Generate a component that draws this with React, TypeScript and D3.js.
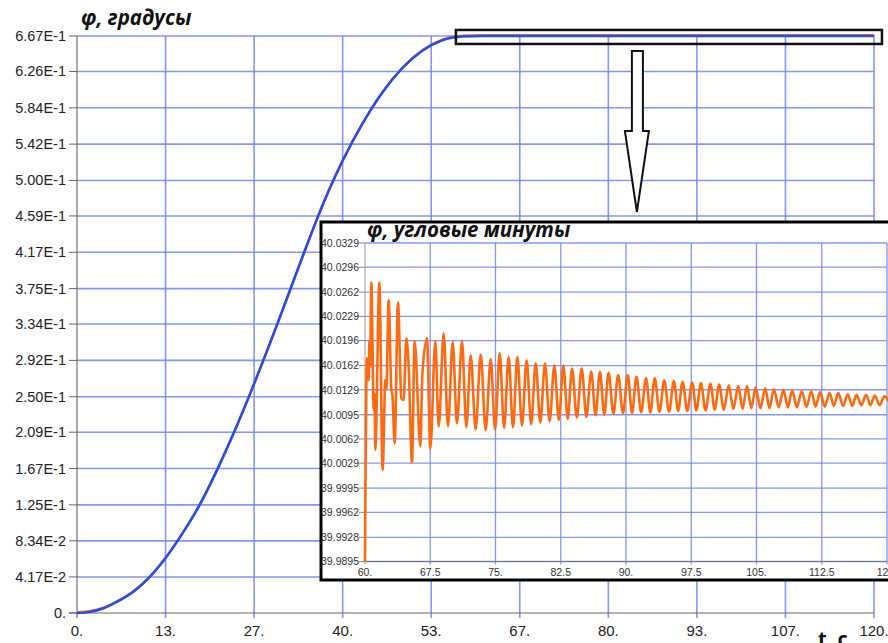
import React from "react";
import * as d3 from "d3";

// main curve: phi (degrees) vs t (s)
const mainT = [0, 2, 4, 6, 8.5, 11, 13.3, 16, 18.5, 21, 23.5, 26.5, 28.5, 30, 32, 34, 36, 38, 40, 43, 46, 49, 52, 55, 58, 61, 70, 80, 90, 100, 110, 120];
const mainV = [0, 0.0013, 0.0055, 0.0128, 0.0246, 0.042, 0.0632, 0.0935, 0.1255, 0.164, 0.2065, 0.262, 0.301, 0.331, 0.372, 0.413, 0.453, 0.49, 0.523, 0.566, 0.602, 0.63, 0.65, 0.662, 0.6663, 0.667, 0.667, 0.667, 0.667, 0.667, 0.667, 0.667];

const mainXTicks = [0, 13.333, 26.667, 40, 53.333, 66.667, 80, 93.333, 106.667, 120];
const mainXLabels = ["0.", "13.", "27.", "40.", "53.", "67.", "80.", "93.", "107.", "120."];
const mainYLabels = ["0.", "4.17E-2", "8.34E-2", "1.25E-1", "1.67E-1", "2.09E-1", "2.50E-1", "2.92E-1", "3.34E-1", "3.75E-1", "4.17E-1", "4.59E-1", "5.00E-1", "5.42E-1", "5.84E-1", "6.26E-1", "6.67E-1"];

// inset: phi (arc minutes) for t = 60..120, extrema
const insetT = [
  60.0, 60.23, 60.42, 60.5, 60.58, 60.73, 61.0, 61.08, 61.19, 61.65, 62.03, 62.34, 62.45, 62.72, 63.03, 63.15, 63.41, 63.79,
  64.18, 64.44, 64.75, 65.02, 65.4, 65.71, 66.36, 66.6, 67.13, 67.51, 68.08, 68.47, 69.04, 69.54, 70.08, 70.57, 71.15, 71.65,
  72.15, 72.72, 73.3, 73.87, 74.45, 74.96, 75.48, 75.99, 76.51, 77.01, 77.51, 78.04, 78.58, 79.1, 79.62, 80.15, 80.69, 81.22,
  81.76, 82.28, 82.8, 83.3, 83.8, 84.35, 84.9, 85.45, 86.0, 86.5, 87.0, 87.5, 88.0, 88.55, 89.1, 89.65, 90.2, 90.7,
  91.2, 91.75, 92.3, 92.8, 93.3, 93.85, 94.4, 94.95, 95.5, 96.0, 96.5, 97.05, 97.6, 98.1, 98.6, 99.15, 99.7, 100.2,
  100.7, 101.25, 101.8, 102.35, 102.9, 103.4, 103.9, 104.4, 104.9, 105.45, 106.0, 106.5, 107.0, 107.55, 108.1, 108.6, 109.1, 109.65,
  110.2, 110.75, 111.3, 111.8, 112.3, 112.85, 113.4, 113.9, 114.4, 114.95, 115.5, 116.0, 116.5, 117.05, 117.6, 118.1, 118.6, 119.15,
  119.7, 120.2,
];
const insetV = [
  39.9895, 40.0172, 40.0142, 40.0195, 40.016, 40.0275, 40.0102, 40.0125, 40.0047, 40.0275, 40.002, 40.0142, 40.013, 40.0251, 40.0129, 40.0122, 40.0056, 40.0248,
  40.0117, 40.0115, 40.0199, 40.0161, 40.003, 40.0195, 40.0052, 40.0151, 40.0199, 40.0049, 40.0195, 40.0079, 40.0206, 40.0079, 40.0194, 40.0083, 40.0195, 40.0078,
  40.0176, 40.0075, 40.0177, 40.0074, 40.0171, 40.0075, 40.0179, 40.0077, 40.0174, 40.0078, 40.0174, 40.008, 40.0169, 40.0082, 40.0165, 40.0084, 40.0165, 40.0086,
  40.0162, 40.0088, 40.0162, 40.0089, 40.0158, 40.0091, 40.0158, 40.0092, 40.0154, 40.0094, 40.0154, 40.0095, 40.0152, 40.0096, 40.0149, 40.0097, 40.0149, 40.0097,
  40.0147, 40.0098, 40.0145, 40.0098, 40.0145, 40.0099, 40.0142, 40.0099, 40.0141, 40.01, 40.014, 40.01, 40.0139, 40.0101, 40.0138, 40.0101, 40.0137, 40.0102,
  40.0136, 40.0102, 40.0135, 40.0103, 40.0134, 40.0103, 40.0134, 40.0104, 40.0132, 40.0104, 40.0131, 40.0104, 40.013, 40.0105, 40.0129, 40.0105, 40.0128, 40.0105,
  40.0127, 40.0106, 40.0127, 40.0106, 40.0126, 40.0106, 40.0125, 40.0107, 40.0125, 40.0107, 40.0123, 40.0107, 40.0122, 40.0108, 40.0122, 40.0108, 40.0121, 40.0108,
  40.012, 40.0114,
];
const insetXLabels = ["60.", "67.5", "75.", "82.5", "90.", "97.5", "105.", "112.5", "120."];
const insetYLabels = ["39.9895", "39.9928", "39.9962", "39.9995", "40.0029", "40.0062", "40.0095", "40.0129", "40.0162", "40.0196", "40.0229", "40.0262", "40.0296", "40.0329"];

const GRID = "#6f86f5";
const LABEL_FONT = "'Liberation Sans', Arial, sans-serif";
const TITLE_FONT = "'Open Sans', 'Noto Sans', sans-serif";

export default function App() {
  const W = 888, H = 643;
  const m = { left: 77, right: 874, top: 36, bottom: 613 };
  const x = d3.scaleLinear().domain([0, 120]).range([m.left, m.right]);
  const y = d3.scaleLinear().domain([0, 0.667]).range([m.bottom, m.top]);

  const mainData = mainT.map((t, i) => [t, mainV[i]] as [number, number]);
  const mainLine = d3.line<[number, number]>()
    .x(d => x(d[0]))
    .y(d => y(d[1]))
    .curve(d3.curveMonotoneX);

  // inset frame + plot area
  const box = { x: 321, y: 222, w: 572, h: 358 };
  const ip = { left: 365, right: 887, top: 243, bottom: 561.5 };
  const ix = d3.scaleLinear().domain([60, 120]).range([ip.left, ip.right]);
  const iy = d3.scaleLinear().domain([39.9895, 40.0329]).range([ip.bottom, ip.top]);
  const insetData = insetT.map((t, i) => [t, insetV[i]] as [number, number]);
  const insetLine = d3.line<[number, number]>()
    .x(d => ix(d[0]))
    .y(d => iy(d[1]))
    .curve(d3.curveMonotoneX);

  const mainYTicks = mainYLabels.map(Number);
  const insetXTicks = insetXLabels.map(Number);
  const insetYTicks = insetYLabels.map(Number);

  // zoom marker rectangle and arrow
  const hl = { x0: x(57.05), x1: x(121.2), y0: y(0.674), y1: y(0.6578) };
  const ax = x(84.3);
  const arrow = [
    [ax - 5, 51], [ax + 6, 51], [ax + 6, 131], [ax + 12, 131], [ax, 212], [ax - 12, 131], [ax - 5, 131],
  ].map(p => p.join(",")).join(" ");

  return (
    <svg width={W} height={H} style={{ position: "absolute", left: 0, top: 0, background: "#fff" }}>
      <rect width={W} height={H} fill="#fff" />

      {/* main grid */}
      {mainYTicks.slice(1).map((v, i) => (
        <line key={"gy" + i} x1={m.left} x2={m.right} y1={y(v)} y2={y(v)} stroke={GRID} strokeWidth={1.6} opacity={0.85} />
      ))}
      {mainXTicks.slice(1).map((v, i) => (
        <line key={"gx" + i} x1={x(v)} x2={x(v)} y1={m.top} y2={m.bottom + 5} stroke={GRID} strokeWidth={1.6} opacity={0.85} />
      ))}

      {/* main axes */}
      <line x1={m.left} x2={m.left} y1={m.top} y2={m.bottom + 5} stroke="#555" strokeWidth={1} />
      <line x1={m.left - 8} x2={m.right} y1={m.bottom} y2={m.bottom} stroke="#666" strokeWidth={1} />
      {mainYTicks.map((v, i) => (
        <g key={"ty" + i}>
          <line x1={m.left - 8} x2={m.left} y1={y(v)} y2={y(v)} stroke="#666" strokeWidth={1} />
          <text x={66} y={y(v) + 5} textAnchor="end" fontFamily={LABEL_FONT} fontSize={14.5} fill="#222">
            {mainYLabels[i]}
          </text>
        </g>
      ))}
      {mainXTicks.map((v, i) => (
        <text key={"tx" + i} x={x(v)} y={636} textAnchor="middle" fontFamily={LABEL_FONT} fontSize={15} fill="#222">
          {mainXLabels[i]}
        </text>
      ))}

      {/* main curve: orange under blue */}
      <path d={mainLine(mainData) ?? ""} fill="none" stroke="#ff6a10" strokeWidth={2.4} transform="translate(0.6,-0.9)" />
      <path d={mainLine(mainData) ?? ""} fill="none" stroke="#1f4ff0" strokeWidth={2.5} />

      <text x={81} y={25} fontFamily={TITLE_FONT} fontStyle="italic" fontWeight={700} fontSize={20.5} fill="#111">
        φ, градусы
      </text>
      <text x={818} y={646} fontFamily={TITLE_FONT} fontWeight={700} fontSize={20} fill="#111">
        t, c
      </text>

      {/* highlight + arrow */}
      <rect x={hl.x0} y={hl.y0} width={hl.x1 - hl.x0} height={hl.y1 - hl.y0} fill="none" stroke="#111" strokeWidth={2.5} />
      <polygon points={arrow} fill="#fff" stroke="#111" strokeWidth={2} strokeLinejoin="miter" />

      {/* inset */}
      <rect x={box.x} y={box.y} width={box.w} height={box.h} fill="#fff" />
      {insetYTicks.slice(0, -1).map((v, i) => (
        <line key={"igy" + i} x1={ip.left} x2={ip.right} y1={iy(v)} y2={iy(v)} stroke={GRID} strokeWidth={1.3} opacity={0.85} />
      ))}
      <line x1={ip.left} x2={ip.right} y1={ip.top} y2={ip.top} stroke={GRID} strokeWidth={1.3} opacity={0.85} />
      {insetXTicks.slice(1).map((v, i) => (
        <line key={"igx" + i} x1={ix(v)} x2={ix(v)} y1={ip.top} y2={ip.bottom + 3} stroke={GRID} strokeWidth={1.3} opacity={0.85} />
      ))}
      <line x1={ip.left} x2={ip.left} y1={ip.top} y2={ip.bottom + 3} stroke="#999" strokeWidth={1} />
      <line x1={ip.left - 6} x2={ip.right} y1={ip.bottom} y2={ip.bottom} stroke="#777" strokeWidth={1} />
      {insetYTicks.map((v, i) => (
        <g key={"ity" + i}>
          <line x1={ip.left - 6} x2={ip.left} y1={iy(v)} y2={iy(v)} stroke="#888" strokeWidth={1} />
          <text x={359} y={iy(v) + 3.8} textAnchor="end" fontFamily={LABEL_FONT} fontSize={10.5} fill="#333">
            {insetYLabels[i]}
          </text>
        </g>
      ))}
      {insetXTicks.map((v, i) => (
        <text key={"itx" + i} x={ix(v)} y={576} textAnchor="middle" fontFamily={LABEL_FONT} fontSize={10.5} fill="#333">
          {insetXLabels[i]}
        </text>
      ))}
      <path d={insetLine(insetData) ?? ""} fill="none" stroke="#ff6a10" strokeWidth={2.6} strokeLinejoin="round" />
      <text x={367} y={237} fontFamily={TITLE_FONT} fontStyle="italic" fontWeight={700} fontSize={20.5} fill="#111">
        φ, угловые минуты
      </text>
      <rect x={box.x} y={box.y} width={box.w} height={box.h} fill="none" stroke="#000" strokeWidth={3} />
    </svg>
  );
}
